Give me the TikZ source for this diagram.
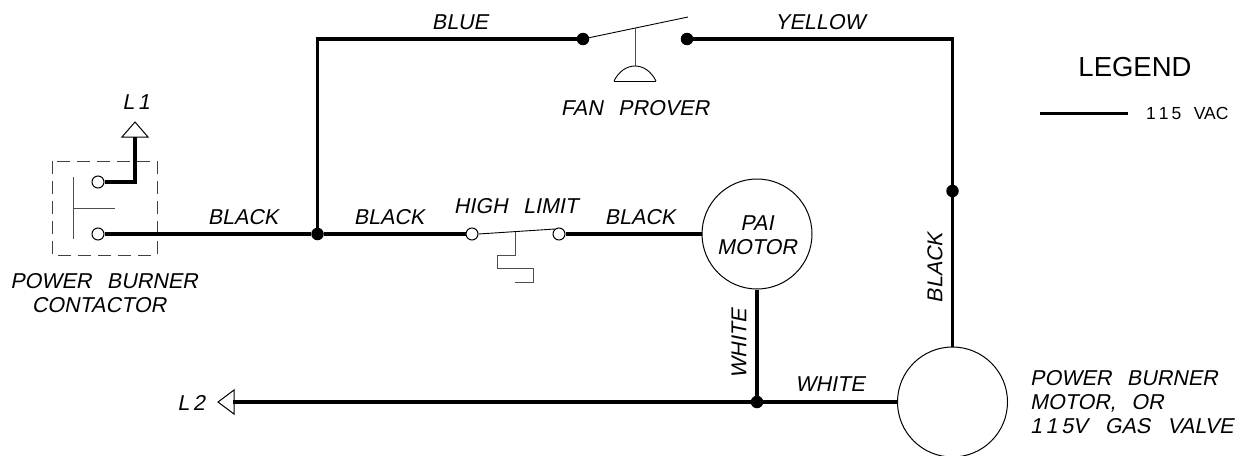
\documentclass[tikz,border=0pt]{standalone}
\usepackage{fontspec}
\setmainfont[FakeSlant=0.2]{Liberation Sans}
\newfontfamily\upfont{Liberation Sans}
\usetikzlibrary{calc}
\newcommand{\wsp}{\hspace{0.72em}}
\tikzset{
  wire/.style={draw=black,line width=3.4pt,line join=miter},
  thin line/.style={draw=black!70,line width=1pt},
  blade/.style={draw=black,line width=0.9pt},
  txt/.style={inner sep=0pt,font=\fontsize{21.5}{24}\selectfont,align=center},
  open term/.style={circle,draw=black,line width=1pt,fill=white,inner sep=0pt,minimum size=12pt},
  junction/.style={circle,fill=black,inner sep=0pt,minimum size=12.5pt},
  motor/.style={circle,draw=black,line width=1pt,inner sep=0pt,minimum size=110pt},
  flag/.style={draw=black,line width=1pt,fill=white,line join=miter}
}
\begin{document}
\begin{tikzpicture}[x=1pt,y=-1pt]
\useasboundingbox (0,0) rectangle (1239,455);
% terminals and junctions
\node[open term] (c1) at (98,182) {};
\node[open term] (c2) at (98,234) {};
\node[junction] (j1) at (317.5,234) {};
\node[open term] (h1) at (472,234) {};
\node[open term] (h2) at (559,234) {};
\node[motor] (pai) at (757,234) {};
\node[motor] (pbm) at (952.5,402) {};
\node[junction] (j2) at (757,402) {};
\node[junction] (j3) at (952.5,191) {};
\node[junction] (f1) at (583,39) {};
\node[junction] (f2) at (687,39) {};
\coordinate (cb) at (317.5,39);
\coordinate (cy) at (952.5,39);
\coordinate (l1c) at (135,182);
\coordinate (l1t) at (135,137);
\coordinate (l2t) at (233,402);
\coordinate (fb) at (688,17);
\coordinate (hb) at (555,229);
% flags
\draw[flag] (135,122) -- (148,137) -- (122,137) -- cycle;
\draw[flag] (218,402) -- (234,390) -- (234,414) -- cycle;
% contactor
\draw[black!75,line width=1pt,dash pattern=on 13pt off 7pt] (52,161) rectangle (157,255);
\draw[thin line] (73,177) -- (73,239);
\draw[thin line] (73,208) -- (115,208);
% wires
\draw[wire] (c1) -- (l1c) -- (l1t);
\draw[wire] (c2) -- (j1);
\draw[wire] (j1) -- (h1);
\draw[wire] (h2) -- (pai);
\draw[wire] (pai) -- (j2);
\draw[wire] (j2) -- (pbm);
\draw[wire] (l2t) -- (j2);
\draw[wire] (j1) -- (cb) -- (f1);
\draw[wire] (f2) -- (cy) -- (j3);
\draw[wire] (j3) -- (pbm);
% fan prover
\draw[blade] (f1) -- (fb);
\draw[thin line] (635,28) -- (635,66);
\draw[blade] (614,81) -- (656,81);
\draw[blade] (614,81) .. controls (619,71) and (627,66) .. (635,66) .. controls (643,66) and (651,71) .. (656,81);
% high limit
\draw[blade] (h1.east) -- (hb);
\draw[thin line] (515,231.5) -- (515,255) -- (497,255) -- (497,268.5) -- (533,268.5) -- (533,282) -- (515,282);
% legend
\coordinate (lega) at (1040,113);
\coordinate (legb) at (1128,113);
\draw[black,line width=3pt] (lega) -- (legb);
% labels
\node[txt] (tl1) at (136,102) {L\,1};
\node[txt] (tl2) at (191,403) {L\,2};
\node[txt] (tblue) at (460,22) {BLUE};
\node[txt] (tyel) at (820,22) {YELLOW};
\node[txt] (tb1) at (243,217) {BLACK};
\node[txt] (tb2) at (389,217) {BLACK};
\node[txt] (tb3) at (640,217) {BLACK};
\node[txt] (thl) at (516,206) {HIGH\wsp LIMIT};
\node[txt] (tfan) at (635,108) {FAN\wsp PROVER};
\node[txt] (tpb) at (104,293) {POWER\wsp BURNER\\[-0.5pt]CONTACTOR\hspace*{10pt}};
\node[txt] (tpai) at (757,235) {PAI\\MOTOR};
\node[txt,rotate=90] (tw1) at (739,344) {WHITE};
\node[txt,rotate=90] (tb4) at (935,268) {BLACK};
\node[txt] (tw2) at (830,384) {WHITE};
\node[txt,align=left,anchor=west] (tmot) at (1030,402) {POWER\wsp BURNER\\MOTOR,\wsp OR\\1\,1\,5V\hspace{0.8em}GAS\hspace{0.8em}VALVE};
\node[txt,font=\upfont\fontsize{27.5}{30}\selectfont] (tleg) at (1135,67) {LEGEND};
\node[txt,font=\upfont\fontsize{17.5}{20}\selectfont,anchor=west] (tvac) at (1146,113) {1\,1\,5\wsp VAC};
\end{tikzpicture}
\end{document}
